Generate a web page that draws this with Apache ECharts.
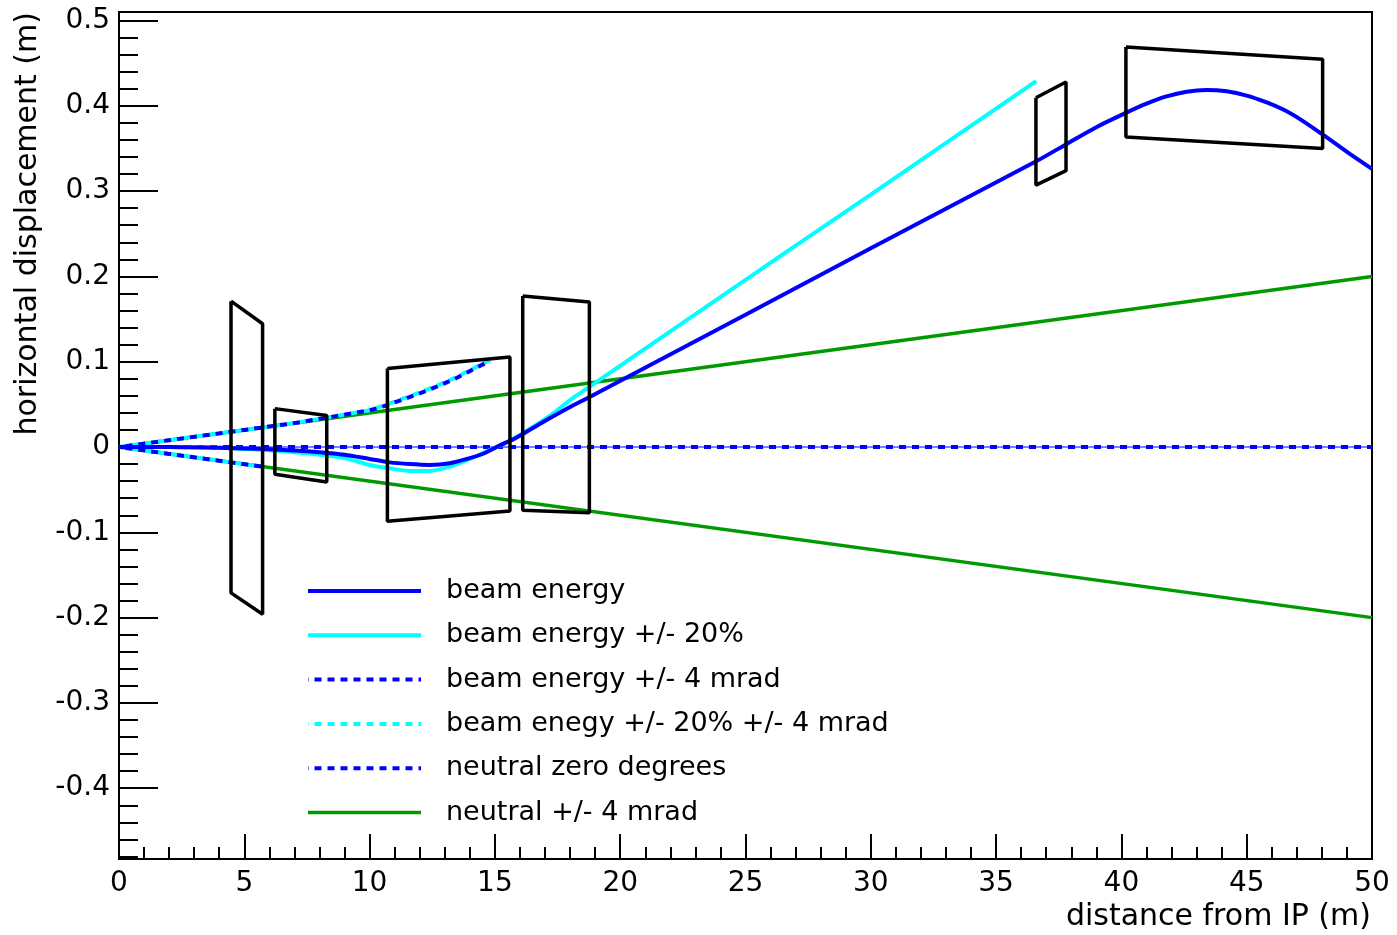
<!DOCTYPE html>
<html>
<head>
<meta charset="utf-8">
<script src="https://cdn.jsdelivr.net/npm/echarts@6/dist/echarts.min.js"></script>
<style>
html,body{margin:0;padding:0;background:#fff;}
#chart{width:1397px;height:935px;}
</style>
</head>
<body>
<div id="chart"></div>
<script>
// ---- data (x = distance from IP in m, y = horizontal displacement in m) ----
const legendNames = [
  'beam energy',
  'beam energy +/- 20%',
  'beam energy +/- 4 mrad',
  'beam enegy +/- 20% +/- 4 mrad',
  'neutral zero degrees',
  'neutral +/- 4 mrad'
];
const xTitle = 'distance from IP (m)';
const yTitle = 'horizontal displacement (m)';

const beamEnergy = [
  [0,0],[2,0],[4,-0.001],[5.5,-0.002],[7,-0.004],[8,-0.006],[9,-0.009],[10,-0.014],
  [10.8,-0.018],[11.6,-0.020],[12.4,-0.021],[13.2,-0.019],[14,-0.013],[14.6,-0.007],
  [15.2,0.002],[15.8,0.010],[16.5,0.022],[17.2,0.034],[18,0.047],[18.8,0.059],
  [25,0.155],[30,0.233],[36.6,0.335],[37.8,0.355],[39,0.375],[40.2,0.392],[41,0.4025],
  [41.8,0.411],[42.6,0.4165],[43.4,0.4185],[44.2,0.417],[45,0.412],[45.8,0.404],
  [46.5,0.395],[47.2,0.383],[48,0.367],[49,0.346],[50,0.326]
];
const beamEnergy20 = [
  [0,0],[2,0],[4,-0.001],[5.5,-0.003],[7,-0.006],[8,-0.009],[9,-0.013],[10,-0.021],
  [10.8,-0.025],[11.6,-0.028],[12.4,-0.028],[13.2,-0.023],[14,-0.014],[14.6,-0.006],
  [15.3,0.003],[16,0.014],[16.7,0.027],[17.4,0.041],[18,0.055],[18.8,0.071],
  [25,0.196],[30,0.296],[36.6,0.429]
];
const beam4mradUp = [
  [0,0],[5,0.020],[7,0.028],[8,0.033],[9.2,0.039],[10,0.043],[10.7,0.049],[11.35,0.056],
  [12,0.063],[12.7,0.071],[13.4,0.080],[14,0.089],[14.8,0.101]
];
const beam4mradDown = [[0,0],[5.7,-0.023]];
const beam20_4mradUp = [
  [0,0],[5,0.020],[7,0.028],[8,0.033],[9.2,0.039],[10,0.043],[10.7,0.050],[11.35,0.057],
  [12,0.064],[12.7,0.072],[13.4,0.081],[14,0.090],[14.8,0.102]
];
const beam20_4mradDown = [[0,0],[5.7,-0.023]];
const neutralZero = [[0,0],[50,0]];
const neutral4mradUp = [[0,0],[50,0.2]];
const neutral4mradDown = [[0,0],[50,-0.2]];

// magnet apertures (polygon vertices)
const box1 = [[4.47,0.171],[5.73,0.1445],[5.73,-0.196],[4.47,-0.171],[4.47,0.171]];
const box2 = [[6.22,0.045],[8.29,0.037],[8.29,-0.041],[6.22,-0.032],[6.22,0.045]];
const box3 = [[10.71,0.092],[15.6,0.1055],[15.6,-0.075],[10.71,-0.087],[10.71,0.092]];
const box4 = [[16.11,0.177],[18.77,0.170],[18.77,-0.077],[16.11,-0.074],[16.11,0.177]];
const box5 = [[36.59,0.4095],[37.79,0.428],[37.79,0.324],[36.59,0.307],[36.59,0.4095]];
const box6 = [[40.18,0.469],[48.03,0.4545],[48.03,0.350],[40.18,0.3634],[40.18,0.469]];
const boxes = [box1, box2, box3, box4, box5, box6];

const xRange = [0, 50];
const yRange = [-0.483, 0.51];

// ---- chart ----
const FONT = "'DejaVu Sans', 'Liberation Sans', Arial, sans-serif";
const BLUE = '#0000ff', CYAN = '#00ffff', GREEN = '#009900';
const DASH = [7, 6];

function lineSeries(name, data, color, width, dashed, opts) {
  return Object.assign({
    type: 'line', name: name, data: data, symbol: 'none', showSymbol: false,
    smooth: false, animation: false, silent: true,
    lineStyle: { color: color, width: width, type: dashed ? DASH : 'solid' },
    itemStyle: { color: color }
  }, opts || {});
}

const series = [];
series.push(lineSeries(legendNames[5], neutral4mradUp, GREEN, 3.5, false, {z: 2}));
series.push(lineSeries(legendNames[5], neutral4mradDown, GREEN, 3.5, false, {z: 2}));
series.push(lineSeries('zero line', neutralZero, BLUE, 1, false, {z: 2}));
series.push(lineSeries(legendNames[3], beam20_4mradUp, CYAN, 4, true, {z: 3}));
series.push(lineSeries(legendNames[3], beam20_4mradDown, CYAN, 4, true, {z: 3}));
series.push(lineSeries(legendNames[2], beam4mradUp, BLUE, 4, true, {z: 4, lineStyle: {color: BLUE, width: 4, type: DASH, dashOffset: 6.5}}));
series.push(lineSeries(legendNames[2], beam4mradDown, BLUE, 4, true, {z: 4, lineStyle: {color: BLUE, width: 4, type: DASH, dashOffset: 6.5}}));
series.push(lineSeries(legendNames[4], neutralZero, BLUE, 4, true, {z: 4}));
series.push(lineSeries(legendNames[1], beamEnergy20, CYAN, 4, false, {z: 5, smooth: 0.3}));
series.push(lineSeries(legendNames[0], beamEnergy, BLUE, 4, false, {z: 6, smooth: 0.3}));
boxes.forEach(function (b, i) {
  series.push(lineSeries('aperture ' + (i + 1), b, '#000000', 3.5, false, {z: 8}));
});

const chart = echarts.init(document.getElementById('chart'), null, {renderer: 'canvas'});
chart.setOption({
  animation: false,
  backgroundColor: '#ffffff',
  textStyle: { fontFamily: FONT },
  grid: {
    left: 119, right: 25, top: 12, bottom: 76,
    show: true, borderColor: '#000', borderWidth: 2, backgroundColor: 'transparent'
  },
  xAxis: {
    type: 'value', min: xRange[0], max: xRange[1], interval: 5,
    axisLine: { show: true, onZero: false, lineStyle: { color: '#000', width: 2 } },
    axisTick: { show: true, inside: true, length: 25, lineStyle: { color: '#000', width: 2 } },
    minorTick: { show: true, splitNumber: 5, length: 12, lineStyle: { color: '#000', width: 2 } },
    splitLine: { show: false },
    axisLabel: { color: '#000', fontSize: 28, fontFamily: FONT, margin: 11,
      showMinLabel: true, showMaxLabel: true }
  },
  yAxis: {
    type: 'value', min: yRange[0], max: yRange[1], splitNumber: 10,
    axisLine: { show: true, onZero: false, lineStyle: { color: '#000', width: 2 } },
    axisTick: { show: true, inside: true, length: 39, lineStyle: { color: '#000', width: 2 } },
    minorTick: { show: true, splitNumber: 5, length: 19, lineStyle: { color: '#000', width: 2 } },
    splitLine: { show: false },
    axisLabel: {
      color: '#000', fontSize: 28, fontFamily: FONT, margin: 9,
      formatter: function (v) {
        const k = Math.round(v * 10);
        if (Math.abs(v * 10 - k) > 1e-6) return '';
        return String(k / 10 === 0 ? 0 : k / 10);
      }
    }
  },
  legend: {
    data: legendNames,
    orient: 'vertical', left: 306, top: 576, padding: 0,
    itemWidth: 113, itemHeight: 14, itemGap: 14.3,
    selectedMode: false,
    itemStyle: { opacity: 0 },
    lineStyle: { width: 'inherit', opacity: 1 },
    textStyle: { color: '#000', fontSize: 27, fontFamily: FONT, lineHeight: 30, padding: [0, 0, 0, 20] }
  },
  graphic: [
    { type: 'text', x: 1371, y: 917, silent: true,
      style: { text: xTitle, fill: '#000', font: '30px ' + FONT, align: 'right', verticalAlign: 'middle' } },
    { type: 'text', x: 28, y: 12, rotation: Math.PI / 2, silent: true,
      style: { text: yTitle, fill: '#000', font: '30px ' + FONT, align: 'right', verticalAlign: 'middle' } }
  ],
  series: series
});
</script>
</body>
</html>
